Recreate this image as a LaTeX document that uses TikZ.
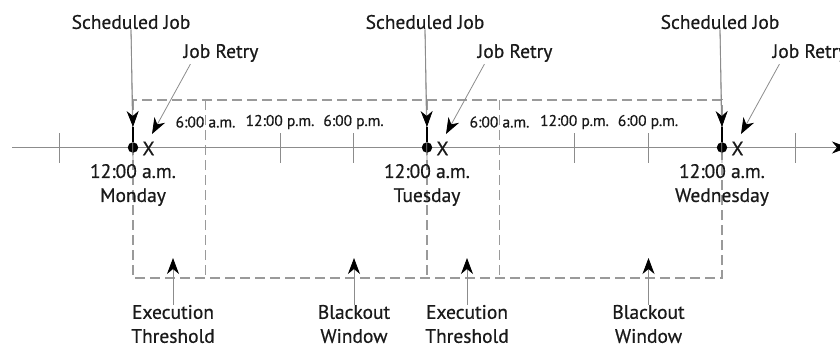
\documentclass[tikz,border=0pt]{standalone}
\usepackage{fontspec}
\setmainfont{PT Sans}[FakeBold=0.6]
\usetikzlibrary{arrows.meta}
\definecolor{ink}{HTML}{1A1A1A}
\definecolor{linegray}{HTML}{8C8C8C}
\definecolor{dashgray}{HTML}{9A9A9A}
\begin{document}
\begin{tikzpicture}[x=1pt,y=-1pt,
  lbl/.style={font=\fontsize{19.5}{24}\selectfont, text=ink, inner sep=0pt, align=center},
  tlbl/.style={font=\fontsize{15.5}{17}\selectfont, text=ink, inner sep=1pt},
  ln/.style={draw=linegray, line width=0.8pt},
  dsh/.style={draw=dashgray, line width=1.2pt, dash pattern=on 10pt off 5pt},
  tipa/.style={-{Stealth[length=16pt,width=12pt,inset=5pt,color=black]}},
  dotn/.style={circle, fill=black, minimum size=10.5pt, inner sep=0pt}]
\useasboundingbox (0,0) rectangle (840,343);
\clip (0,0) rectangle (840,343);

% dashed windows
\draw[dsh] (133,100) rectangle (722,278);
\draw[dsh] (205.5,100) -- (205.5,278);
\draw[dsh] (427,100) -- (427,278);
\draw[dsh] (499.5,100) -- (499.5,278);

% axis
\coordinate (ax0) at (12,147.5);
\coordinate (ax1) at (848,147.5);
\draw[ln, -{Stealth[length=16pt,width=12pt,inset=5pt,color=black]}] (ax0) -- (ax1);
\foreach \x/\n in {59/a,280/b,353.5/c,574.5/d,648/e,795.5/f}{
  \coordinate (tt\n) at (\x,133);
  \coordinate (tb\n) at (\x,163);
  \draw[ln] (tt\n) -- (tb\n);
}

% time labels
\node[tlbl] (t1) at (205.5,122) {6:00 a.m.};
\node[tlbl] (t2) at (280,122) {12:00 p.m.};
\node[tlbl] (t3) at (353.5,122) {6:00 p.m.};
\node[tlbl] (t4) at (499.5,122) {6:00 a.m.};
\node[tlbl] (t5) at (574.5,122) {12:00 p.m.};
\node[tlbl] (t6) at (648,122) {6:00 p.m.};

% days
\foreach \i/\x/\day in {1/133/Monday,2/427/Tuesday,3/722/Wednesday}{
  \node[lbl] (sj\i) at (\x-2,22) {Scheduled Job};
  \node[lbl] (jr\i) at (\x+88,53) {Job Retry};
  \coordinate (sa\i) at (\x,127);
  \coordinate (sb\i) at (\x,163);
  \node[dotn] (d\i) at (\x,147.5) {};
  \node[lbl] (x\i) at (\x+15.5,148.5) {X};
  \coordinate (ra\i) at (\x+19,134);
  \node[lbl] (day\i) at (\x,185) {12:00 a.m.\\ \day};
  \draw[ln] (sj\i.south) -- (sb\i);
  \draw[black, line width=1.1pt] (sa\i) -- (d\i);
  \draw[ln, tipa] (sj\i.south) -- (sa\i);
  \draw[ln, tipa] ([shift={(7,2)}]jr\i.south west) -- (ra\i);
}

% bottom labels
\foreach \i/\x/\txt in {1/173/{Execution\\Threshold},2/354/{Blackout\\Window},3/467/{Execution\\Threshold},4/648.5/{Blackout\\Window}}{
  \node[lbl] (b\i) at (\x,324) {\txt};
  \coordinate (bt\i) at (\x,258);
  \draw[ln, tipa] (b\i.north) -- (bt\i);
}
\end{tikzpicture}
\end{document}
